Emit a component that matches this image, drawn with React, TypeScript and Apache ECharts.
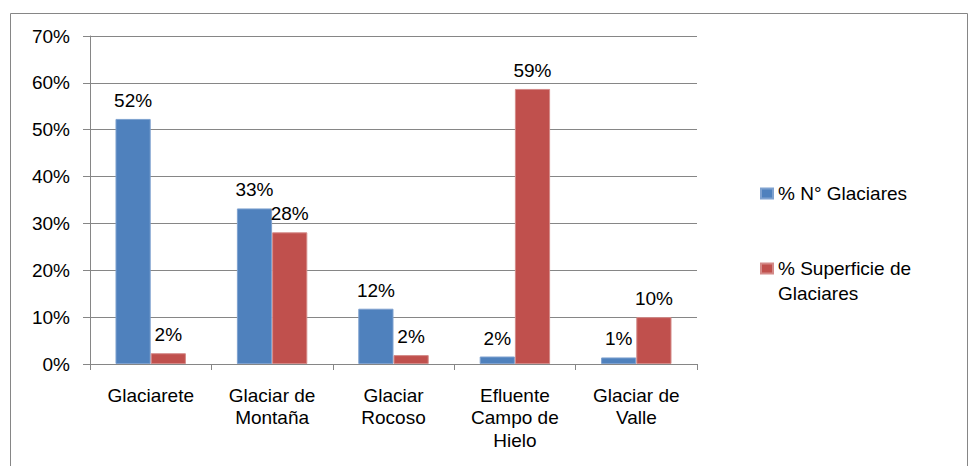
import React, { useEffect, useRef } from "react";
import * as echarts from "echarts";

const categories = [
  "Glaciarete",
  "Glaciar de\nMontaña",
  "Glaciar\nRocoso",
  "Efluente\nCampo de\nHielo",
  "Glaciar de\nValle",
];
const seriesNames = ["% N° Glaciares", "% Superficie de Glaciares"];
const nGlaciares = [52.3, 33.2, 11.8, 1.6, 1.4];
const superficie = [2.3, 28.1, 1.9, 58.7, 10.0];
const yTicks = { min: 0, max: 70, interval: 10 };

const FONT = "'Liberation Sans', Arial, Helvetica, sans-serif";
const FS = 19;

export default function App() {
  const ref = useRef<HTMLDivElement>(null);
  useEffect(() => {
    if (!ref.current) return;
    const chart = echarts.init(ref.current, null, { renderer: "svg" });
    const label = {
      show: true,
      position: "top",
      distance: 9,
      color: "#000",
      fontSize: FS,
      fontFamily: FONT,
      formatter: (p: any) => Math.round(p.value) + "%",
    };
    chart.setOption({
      animation: false,
      textStyle: { fontFamily: FONT },
      graphic: [
        {
          type: "rect",
          shape: { x: 10.5, y: 13.5, width: 957, height: 470 },
          style: { fill: "none", stroke: "#868686", lineWidth: 1 },
          silent: true,
        },
      ],
      legend: [
        {
          data: [seriesNames[0]],
          orient: "vertical",
          left: 760,
          top: 181,
          padding: 0,
          itemWidth: 12,
          itemHeight: 10,
          itemGap: 5,
          icon: "rect",
          textStyle: { color: "#000", fontSize: FS, fontFamily: FONT, lineHeight: 25 },
        },
        {
          data: [seriesNames[1]],
          orient: "vertical",
          left: 760,
          top: 231,
          padding: 0,
          itemWidth: 12,
          itemHeight: 10,
          itemGap: 5,
          icon: "rect",
          formatter: () => " \n% Superficie de\nGlaciares",
          textStyle: { color: "#000", fontSize: FS, fontFamily: FONT, lineHeight: 25 },
        },
      ],
      grid: { left: 90, right: 274, top: 36, bottom: 102, containLabel: false },
      xAxis: {
        type: "category",
        data: categories,
        axisLine: { lineStyle: { color: "#868686", width: 1 } },
        axisTick: { show: true, length: 6, lineStyle: { color: "#868686" } },
        axisLabel: {
          color: "#000",
          fontSize: FS,
          fontFamily: FONT,
          lineHeight: 22.5,
          margin: 20,
          interval: 0,
        },
      },
      yAxis: {
        type: "value",
        min: yTicks.min,
        max: yTicks.max,
        interval: yTicks.interval,
        axisLine: { show: true, lineStyle: { color: "#868686", width: 1 } },
        axisTick: { show: true, length: 7, lineStyle: { color: "#868686" } },
        splitLine: { show: true, lineStyle: { color: "#868686", width: 1 } },
        axisLabel: {
          color: "#000",
          fontSize: FS,
          fontFamily: FONT,
          margin: 20,
          formatter: "{value}%",
        },
      },
      series: [
        {
          name: seriesNames[0],
          type: "bar",
          data: nGlaciares,
          barGap: "0%",
          barCategoryGap: "42%",
          itemStyle: { color: "#4F81BD", borderColor: "#7EA1CF", borderWidth: 1 },
          label,
        },
        {
          name: seriesNames[1],
          type: "bar",
          data: superficie,
          barGap: "0%",
          barCategoryGap: "42%",
          itemStyle: { color: "#C0504D", borderColor: "#D48A88", borderWidth: 1 },
          label,
        },
      ],
    });
    return () => chart.dispose();
  }, []);
  return <div ref={ref} style={{ width: 971, height: 466, position: "absolute", left: 0, top: 0 }} />;
}
